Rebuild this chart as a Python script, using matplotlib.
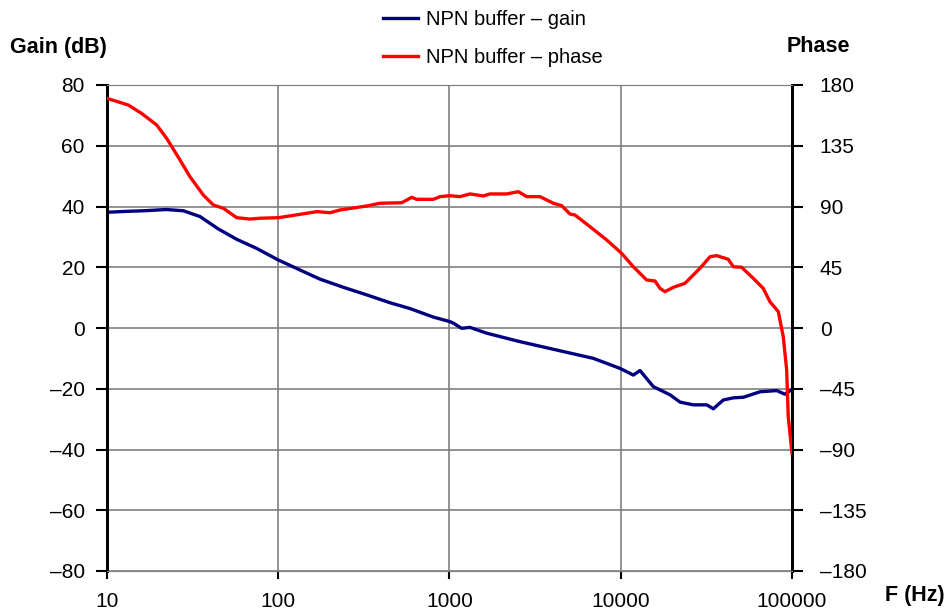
import matplotlib
matplotlib.use("Agg")
import matplotlib.pyplot as plt
import numpy as np

plt.rcParams['font.family'] = ['Liberation Sans', 'DejaVu Sans']

# gain curve (frequency in Hz, gain in dB)
gain_freq = [10, 13, 16.5, 20.5, 22.3, 27.9, 34.9, 44.7, 57.2, 74.8, 100, 134, 175, 240,
             329, 450, 588, 804, 1006, 1052, 1177, 1317, 1648, 2580, 4040, 6920, 9910,
             11840, 12950, 15500, 19400, 22200, 26500, 31800, 34700, 39700, 45400,
             52000, 65000, 81400, 91000, 100000]
gain_db = [38.1, 38.4, 38.6, 38.9, 39.0, 38.6, 36.7, 32.6, 29.2, 26.2, 22.4, 19.1, 16.1,
           13.4, 10.9, 8.3, 6.4, 3.6, 2.1, 1.6, -0.1, 0.2, -1.7, -4.5, -7.0, -10.0,
           -13.3, -15.5, -14.0, -19.3, -22.0, -24.4, -25.3, -25.3, -26.6, -23.7,
           -23.0, -22.8, -21.0, -20.6, -21.8, -20.2]

# phase curve (frequency in Hz, phase in degrees)
phase_freq = [10, 13.3, 15.9, 19.5, 22.3, 26.7, 30.5, 36.5, 41.8, 47.8, 57.2, 68.4, 78.2,
              100, 134, 168, 201, 229, 329, 393, 526, 602, 643, 804, 881, 1006, 1151,
              1317, 1575, 1722, 2157, 2522, 2824, 3375, 4040, 4520, 5055, 5405, 6620,
              8280, 10120, 11840, 14160, 15850, 16940, 18120, 20260, 23720, 29000,
              33200, 36300, 42450, 45400, 50800, 59400, 67900, 74300, 83200, 88900,
              93100, 95100, 100000]
phase_deg = [170.1, 165.2, 159.0, 150.4, 140.5, 124.4, 112.1, 98.5, 91.1, 88.7, 81.7,
             80.7, 81.3, 81.7, 84.2, 86.2, 85.4, 87.4, 90.4, 92.4, 92.8, 96.8, 95.3,
             95.3, 97.3, 98.0, 97.3, 99.3, 97.8, 99.3, 99.3, 101.0, 97.3, 97.3, 92.4,
             90.6, 84.4, 83.7, 75.0, 65.2, 55.3, 45.4, 35.6, 34.8, 29.4, 26.9, 30.1,
             33.1, 44.2, 52.8, 53.6, 50.9, 45.4, 45.0, 36.8, 29.4, 19.5, 12.1, -6.4,
             -31.1, -65.7, -92.8]

gain_ticks = [-80, -60, -40, -20, 0, 20, 40, 60, 80]
phase_ticks = [-180, -135, -90, -45, 0, 45, 90, 135, 180]
freq_ticks = [10, 100, 1000, 10000, 100000]

grid_col = '#808080'

fig = plt.figure(figsize=(9.51, 6.10), dpi=100)
ax = fig.add_axes([107 / 951, 39 / 610, 685 / 951, 486 / 610])
ax2 = ax.twinx()

g_line, = ax.plot(gain_freq, gain_db, color='#000080', lw=2.4,
                  label='NPN buffer \u2013 gain', zorder=3)
p_line, = ax2.plot(phase_freq, phase_deg, color='#ff0000', lw=2.4,
                   label='NPN buffer \u2013 phase', zorder=3)

ax.set_xscale('log')
ax.set_xlim(10, 100000)
ax.set_ylim(-80, 80)
ax2.set_ylim(-180, 180)

ax.set_xticks(freq_ticks)
ax.set_xticklabels([str(f) for f in freq_ticks])
ax.xaxis.set_minor_locator(matplotlib.ticker.NullLocator())
ax.set_yticks(gain_ticks)
ax.set_yticklabels([str(v).replace('-', '\u2013') for v in gain_ticks])
ax2.set_yticks(phase_ticks)
ax2.set_yticklabels([str(v).replace('-', '\u2013') for v in phase_ticks])

ax.grid(True, color=grid_col, lw=1.2)
ax.set_axisbelow(True)

for a in (ax, ax2):
    a.spines['top'].set_color(grid_col)
    a.spines['bottom'].set_color(grid_col)
    a.spines['left'].set_linewidth(2)
    a.spines['right'].set_linewidth(2)
    a.tick_params(labelsize=15, width=1.5)
ax.tick_params(axis='y', length=8, pad=8)
ax.tick_params(axis='x', length=6, pad=9, color='black')
ax2.tick_params(axis='y', length=8, pad=12)

fig.text(10 / 951, 1 - 47 / 610, 'Gain (dB)', fontsize=15.5, fontweight='bold',
         va='center', ha='left')
fig.text(818 / 951, 1 - 47 / 610, 'Phase', fontsize=15.5, fontweight='bold',
         va='center', ha='center')
fig.text(945 / 951, 1 - 595 / 610, 'F (Hz)', fontsize=15.5, fontweight='bold',
         va='center', ha='right')

fig.legend(handles=[g_line, p_line], loc='upper left',
           bbox_to_anchor=(383 / 951, 1 - 10 / 610), borderaxespad=0, borderpad=0,
           frameon=False, fontsize=14.5, handlelength=1.74, handletextpad=0.4,
           labelspacing=0.95)

fig.savefig('out.png', dpi=100)
